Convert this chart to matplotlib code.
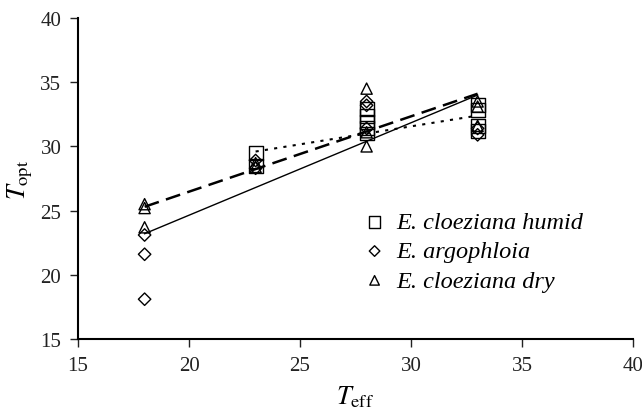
import numpy as np
import matplotlib
matplotlib.use("Agg")
import matplotlib.pyplot as plt

plt.rcParams['font.family'] = ['Liberation Serif', 'DejaVu Serif']
plt.rcParams['mathtext.fontset'] = 'stix'

# observed points (T_eff, T_opt)
humid_x = [23, 23, 28, 28, 28, 28, 28, 33, 33, 33, 33]
humid_y = [29.5, 28.5, 32.9, 32.4, 31.9, 31.4, 31.0, 33.2, 32.8, 31.6, 31.2]

argo_x = [18, 18, 18, 23, 23, 28, 28, 28, 33, 33]
argo_y = [23.1, 21.6, 18.1, 28.9, 28.3, 33.5, 33.2, 31.4, 31.4, 30.9]

dry_x = [18, 18, 18, 23, 23, 28, 28, 28, 33, 33, 33]
dry_y = [25.5, 25.2, 23.7, 28.7, 28.4, 34.5, 31.1, 30.0, 33.5, 33.1, 31.6]

# fitted lines (end points)
fit_argo_x = [18, 33]
fit_argo_y = [23.2, 34.0]
fit_dry_x = [18, 33]
fit_dry_y = [25.3, 34.1]
fit_humid_x = [23, 33]
fit_humid_y = [29.6, 32.4]

labels = ['E. cloeziana humid', 'E. argophloia', 'E. cloeziana dry']

fig = plt.figure(figsize=(6.42, 4.10), dpi=100)
ax = fig.add_axes([0.1215, 0.1707, 0.8645, 0.783])

ax.plot(fit_argo_x, fit_argo_y, color='black', lw=1.0, ls='-')
ax.plot(fit_dry_x, fit_dry_y, color='black', lw=1.8, ls=(0, (6, 3)))
ax.plot(fit_humid_x, fit_humid_y, color='black', lw=1.5, ls=(0, (1.5, 3)))

ax.scatter(humid_x, humid_y, marker='s', s=100, facecolors='none',
           edgecolors='black', linewidths=1.0, label=labels[0])
ax.scatter(argo_x, argo_y, marker='D', s=40, facecolors='none',
           edgecolors='black', linewidths=1.0, label=labels[1])
ax.scatter(dry_x, dry_y, marker='^', s=65, facecolors='none',
           edgecolors='black', linewidths=1.0, label=labels[2])

ax.set_xlim(15, 40)
ax.set_ylim(15, 40)
ax.set_xticks([15, 20, 25, 30, 35, 40])
ax.set_yticks([15, 20, 25, 30, 35, 40])
ax.spines['top'].set_visible(False)
ax.spines['right'].set_visible(False)
ax.spines['left'].set_linewidth(1.5)
ax.spines['bottom'].set_linewidth(1.5)
ax.tick_params(direction='out', length=6, width=1, labelsize=15,
               colors='#222222', pad=6)

ax.set_xlabel(r'$T_{\mathrm{eff}}$', fontsize=19, labelpad=6)
ax.set_ylabel(r'$T_{\mathrm{opt}}$', fontsize=19, labelpad=4)

leg = ax.legend(loc='lower left', bbox_to_anchor=(0.484, 0.117), frameon=False,
                prop={'family': 'Liberation Serif', 'style': 'italic', 'size': 17.5},
                handletextpad=0.15, labelspacing=0.3, handlelength=1.5,
                borderaxespad=0, scatterpoints=1, markerscale=0.85)

fig.savefig('out.png', dpi=100)
